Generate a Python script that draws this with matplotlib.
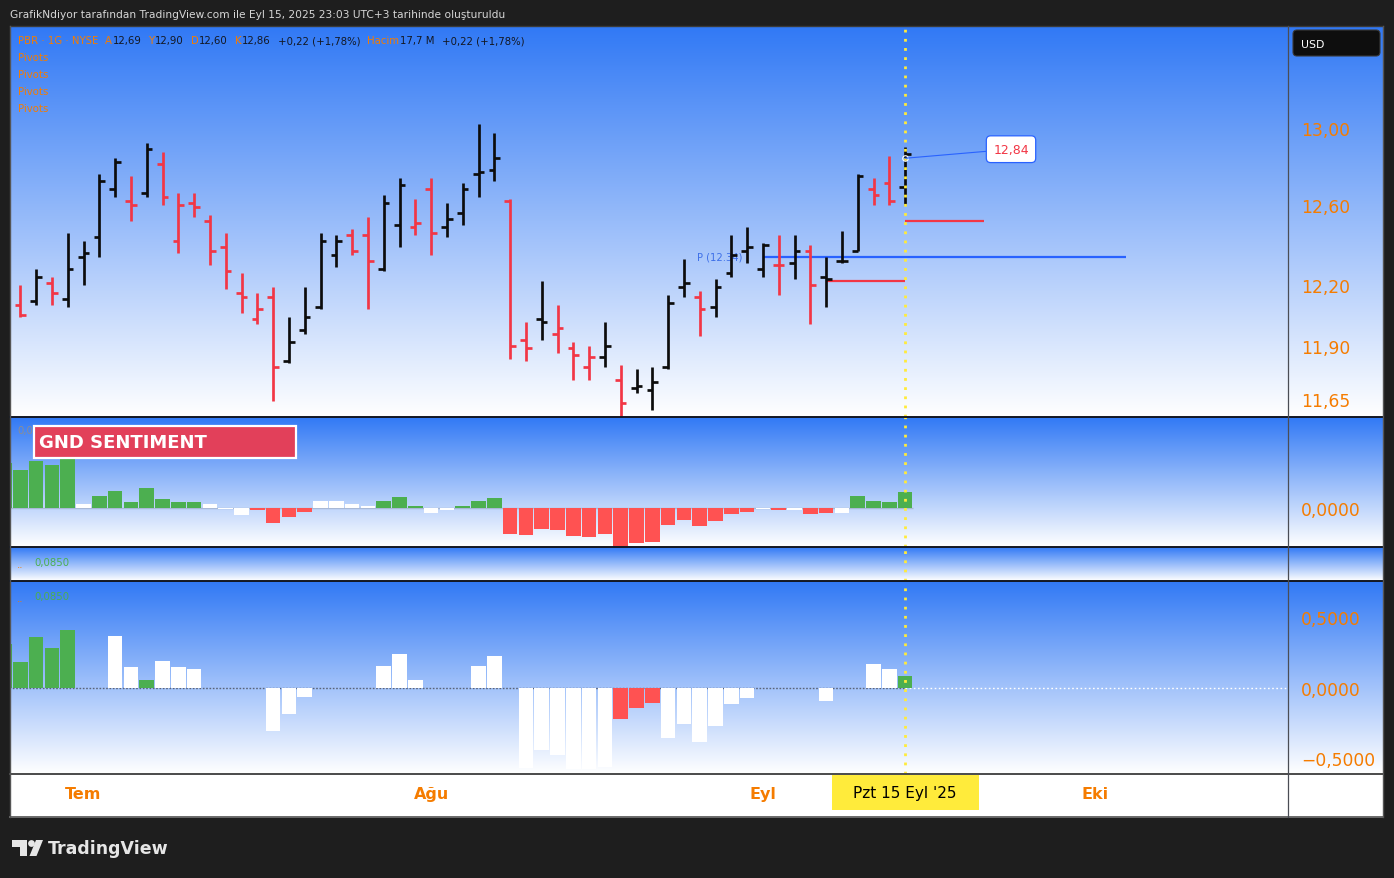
import numpy as np
import matplotlib
matplotlib.use("Agg")
import matplotlib.pyplot as plt
import matplotlib.colors as mcolors
import matplotlib.transforms as mtransforms
from matplotlib.collections import LineCollection
from matplotlib.patches import Rectangle, FancyBboxPatch, Polygon, Circle
from matplotlib.lines import Line2D
from matplotlib.ticker import FixedLocator, NullLocator, FuncFormatter, NullFormatter

plt.rcParams['font.family'] = ['DejaVu Sans']

# ------------------------------------------------------------------ data
title_text = "GrafikNdiyor tarafından TradingView.com ile Eyl 15, 2025 23:03 UTC+3 tarihinde oluşturuldu"
symbol_text = "PBR · 1G · NYSE"
ohlc_labels = ["A", "Y", "D", "K"]
last_ohlc = ["12,69", "12,90", "12,60", "12,86"]
change_text = "+0,22 (+1,78%)"
volume_label = "Hacim"
volume_text = "17,7 M"
pivot_titles = ["Pivots", "Pivots", "Pivots", "Pivots"]

opens = [12.10, 12.12, 12.21, 12.13, 12.34, 12.44, 12.68, 12.62, 12.66, 12.81,
         12.42, 12.61, 12.52, 12.39, 12.16, 12.03, 12.14, 11.83, 11.98, 12.09,
         12.35, 12.45, 12.45, 12.28, 12.50, 12.49, 12.68, 12.49, 12.56, 12.76,
         12.78, 12.62, 11.93, 12.03, 11.96, 11.89, 11.80, 11.85, 11.74, 11.70,
         11.69, 11.80, 12.19, 12.14, 12.09, 12.26, 12.37, 12.28, 12.30, 12.31,
         12.37, 12.24, 12.32, 12.37, 12.68, 12.71, 12.69]
highs = [12.20, 12.28, 12.24, 12.46, 12.42, 12.76, 12.84, 12.75, 12.92, 12.87,
         12.66, 12.66, 12.55, 12.46, 12.26, 12.16, 12.19, 12.04, 12.19, 12.46,
         12.45, 12.48, 12.54, 12.65, 12.74, 12.63, 12.74, 12.61, 12.71, 13.02,
         12.97, 12.63, 12.02, 12.22, 12.10, 11.92, 11.90, 12.02, 11.81, 11.79,
         11.80, 12.15, 12.33, 12.17, 12.23, 12.45, 12.49, 12.41, 12.45, 12.45,
         12.40, 12.34, 12.47, 12.76, 12.74, 12.85, 12.90]
lows = [12.04, 12.10, 12.10, 12.09, 12.20, 12.34, 12.64, 12.52, 12.64, 12.60,
        12.36, 12.54, 12.30, 12.18, 12.06, 12.01, 11.64, 11.82, 11.96, 12.08,
        12.29, 12.35, 12.08, 12.27, 12.39, 12.45, 12.35, 12.44, 12.50, 12.64,
        12.72, 11.84, 11.83, 11.93, 11.87, 11.74, 11.74, 11.80, 11.56, 11.68,
        11.60, 11.79, 12.14, 11.95, 12.04, 12.24, 12.31, 12.24, 12.15, 12.23,
        12.01, 12.09, 12.31, 12.37, 12.60, 12.60, 12.60]
closes = [12.05, 12.24, 12.16, 12.28, 12.36, 12.72, 12.82, 12.60, 12.89, 12.64,
          12.60, 12.59, 12.37, 12.27, 12.14, 12.08, 11.80, 11.92, 12.04, 12.42,
          12.42, 12.37, 12.32, 12.61, 12.70, 12.51, 12.46, 12.53, 12.68, 12.77,
          12.84, 11.90, 11.89, 12.02, 11.99, 11.86, 11.85, 11.90, 11.63, 11.71,
          11.73, 12.11, 12.21, 12.08, 12.19, 12.35, 12.39, 12.40, 12.30, 12.37,
          12.20, 12.23, 12.32, 12.75, 12.65, 12.62, 12.86]
prev_close_first = 12.10

month_labels = ["Tem", "Ağu", "Eyl", "Eki"]
month_index = [4, 26, 47, 68]
cursor_index = 56
cursor_label = "Pzt 15 Eyl '25"

price_ticks = [13.00, 12.60, 12.20, 11.90, 11.65]
pivot_p = 12.34
pivot_p_span = (47, 70)
pivot_upper = 12.52
pivot_upper_span = (56, 61)
pivot_lower = 12.22
pivot_lower_span = (51, 56)
note_value = 12.84

sent_title = "GND SENTIMENT"
sent_header = ["0,0000", "0,3650", "∅", "∅"]
sent_index = list(range(-1, 57))
sent_values = [1.01, 0.86, 1.06, 0.97, 1.15, 0.10, 0.28, 0.39, 0.14, 0.45,
               0.21, 0.14, 0.14, 0.10, -0.02, -0.15, -0.04, -0.33, -0.19, -0.08,
               0.16, 0.16, 0.10, 0.05, 0.16, 0.25, 0.05, -0.11, -0.04, 0.05,
               0.16, 0.23, -0.58, -0.60, -0.46, -0.49, -0.62, -0.64, -0.58, -0.90,
               -0.78, -0.75, -0.37, -0.26, -0.40, -0.28, -0.13, -0.08, -0.01, -0.04,
               -0.04, -0.13, -0.11, -0.11, 0.28, 0.16, 0.14, 0.365]
sent_states = ['g', 'g', 'g', 'g', 'g', 'w', 'g', 'g', 'g', 'g',
               'g', 'g', 'g', 'w', 'w', 'w', 'r', 'r', 'r', 'r',
               'w', 'w', 'w', 'w', 'g', 'g', 'g', 'w', 'w', 'g',
               'g', 'g', 'r', 'r', 'r', 'r', 'r', 'r', 'r', 'r',
               'r', 'r', 'r', 'r', 'r', 'r', 'r', 'r', 'w', 'r',
               'w', 'r', 'r', 'w', 'g', 'g', 'g', 'g']
sent_ticks = [0.0]

osc_header = "0,0850"
osc_values = [0.31, 0.18, 0.36, 0.28, 0.41, 0.0, 0.0, 0.37, 0.15, 0.057,
              0.19, 0.15, 0.135, 0.0, 0.0, 0.0, 0.0, -0.31, -0.185, -0.064,
              0.0, 0.0, 0.0, 0.0, 0.156, 0.24, 0.057, 0.0, 0.0, 0.0,
              0.156, 0.227, 0.0, -0.567, -0.44, -0.475, -0.58, -0.58, -0.56, -0.22,
              -0.142, -0.106, -0.355, -0.255, -0.383, -0.27, -0.113, -0.071, 0.0, 0.0,
              0.0, 0.0, -0.092, 0.0, 0.0, 0.17, 0.135, 0.085]
osc_states = ['g', 'g', 'g', 'g', 'g', 'w', 'w', 'w', 'w', 'g',
              'w', 'w', 'w', 'w', 'w', 'w', 'w', 'w', 'w', 'w',
              'w', 'w', 'w', 'w', 'w', 'w', 'w', 'w', 'w', 'w',
              'w', 'w', 'w', 'w', 'w', 'w', 'w', 'w', 'w', 'r',
              'r', 'r', 'w', 'w', 'w', 'w', 'w', 'w', 'w', 'w',
              'w', 'w', 'w', 'w', 'w', 'w', 'w', 'g']
osc_ticks = [0.5, 0.0, -0.5]

# ------------------------------------------------------------------ style
W, H = 1394, 879
BG = '#1e1e1e'
TOP = '#3179f5'
ORANGE = '#f57c00'
DARK = '#131722'
UP = '#0c0c0c'
DOWN = '#f23645'
STATE_COL = {'g': '#4caf50', 'r': '#ff5252', 'w': '#ffffff'}
YELLOW = '#ffeb3b'
PBLUE = '#2962ff'

fig = plt.figure(figsize=(W / 100, H / 100), dpi=100)
fig.patch.set_facecolor(BG)
PIX = mtransforms.IdentityTransform()


def R(x0, y0, x1, y1):
    return [x0 / W, 1 - y1 / H, (x1 - x0) / W, (y1 - y0) / H]


def bg(x0, y0, x1, y1, top=TOP, bottom='#ffffff'):
    ax = fig.add_axes(R(x0, y0, x1, y1))
    c0 = np.array(mcolors.to_rgb(top))
    c1 = np.array(mcolors.to_rgb(bottom))
    t = np.linspace(0, 1, 256)[:, None]
    img = (c0 * (1 - t) + c1 * t)[:, None, :]
    ax.imshow(img, aspect='auto', extent=[0, 1, 0, 1], origin='upper',
              interpolation='bilinear')
    ax.set_axis_off()
    ax.set_zorder(0)
    return ax


XL, XR, XA = 10, 1288, 1383
P0, P1 = 27, 418
S0, S1 = 418, 548
M0, M1 = 548, 582
L0, L1 = 582, 775
X0, X1 = 775, 818
XLIM = (-0.652, 80.23)

for (a, b) in [(P0, P1), (S0, S1), (M0, M1), (L0, L1)]:
    bg(XL, a, XA, b)
axxbg = fig.add_axes(R(XL, X0, XA, X1))
axxbg.set_facecolor('white')
axxbg.set_xticks([]); axxbg.set_yticks([])
for s in axxbg.spines.values():
    s.set_visible(False)
axxbg.set_zorder(0)


def data_axes(y0, y1):
    ax = fig.add_axes(R(XL, y0, XR, y1))
    ax.set_zorder(2)
    ax.patch.set_alpha(0)
    ax.set_xlim(*XLIM)
    for s in ax.spines.values():
        s.set_visible(False)
    ax.set_xticks([])
    ax.yaxis.tick_right()
    ax.tick_params(axis='y', length=0, pad=9.4, labelsize=12.3, labelcolor=ORANGE)
    return ax


def fmt(v, nd):
    s = f"{abs(v):.{nd}f}".replace('.', ',')
    return ('\u2212' + s) if v < 0 else s


# ------------------------------------------------------------------ price pane
axp = data_axes(P0, P1)
axp.set_yscale('log')
axp.set_ylim(11.565, 13.545)
axp.yaxis.set_major_locator(FixedLocator(price_ticks))
axp.yaxis.set_minor_locator(NullLocator())
axp.yaxis.set_minor_formatter(NullFormatter())
axp.yaxis.set_major_formatter(FuncFormatter(lambda v, p: fmt(v, 2)))

segs, cols = [], []
tick = 0.36
for i, (o, h, l, c) in enumerate(zip(opens, highs, lows, closes)):
    pc = prev_close_first if i == 0 else closes[i - 1]
    col = UP if c >= pc else DOWN
    segs += [[(i, l), (i, h)], [(i - tick, o), (i, o)], [(i, c), (i + tick, c)]]
    cols += [col] * 3
axp.add_collection(LineCollection(segs, colors=cols, linewidths=1.95,
                                  capstyle='butt', zorder=3))

axp.hlines(pivot_p, *pivot_p_span, color=PBLUE, lw=1.6, zorder=2)
axp.hlines(pivot_upper, *pivot_upper_span, color=DOWN, lw=1.6, zorder=2)
axp.hlines(pivot_lower, *pivot_lower_span, color=DOWN, lw=1.6, zorder=2)
axp.text(42.83, pivot_p, f"P ({pivot_p:.2f})", color='#3d6fe8', fontsize=7.2,
         va='center', ha='left', zorder=1)

axp.axvline(cursor_index, color=YELLOW, lw=2.0, ls=(0, (1, 2.3)), zorder=5)
axp.plot([cursor_index], [note_value], 'o', mfc='none', mec='white', ms=4, mew=0.8, zorder=6)
axp.annotate(fmt(note_value, 2), xy=(cursor_index, note_value), xytext=(62.7, 12.887),
             ha='center', va='center', fontsize=9, color=DOWN, zorder=7,
             bbox=dict(boxstyle='round,pad=0.55,rounding_size=0.35', fc='white', ec=PBLUE, lw=0.9),
             arrowprops=dict(arrowstyle='-', color=PBLUE, lw=0.8, shrinkA=0, shrinkB=0))

renderer = fig.canvas.get_renderer()


def seq_text(x_px, y_px, pieces, fs):
    x = x_px
    for s, col, gap in pieces:
        t = fig.text(x / W, 1 - y_px / H, s, color=col, fontsize=fs, va='center',
                     ha='left', zorder=8)
        bb = t.get_window_extent(renderer=renderer)
        x = bb.x1 + gap


HFS = 7.3
pieces = [(symbol_text, ORANGE, 7)]
for lab, val in zip(ohlc_labels, last_ohlc):
    pieces += [(lab, ORANGE, 0.5), (val, DARK, 7)]
pieces += [(change_text, DARK, 7), (volume_label, ORANGE, 0.5), (volume_text, DARK, 7),
           (change_text, DARK, 0)]
seq_text(18, 41, pieces, HFS)
for k, ptxt in enumerate(pivot_titles):
    fig.text(18 / W, 1 - (58 + 17 * k) / H, ptxt, color=ORANGE, fontsize=HFS,
             va='center', ha='left', zorder=8)

# ------------------------------------------------------------------ sentiment pane
axs = data_axes(S0, S1)
axs.set_ylim(-0.867, 2.045)
axs.yaxis.set_major_locator(FixedLocator(sent_ticks))
axs.yaxis.set_major_formatter(FuncFormatter(lambda v, p: fmt(v, 4)))
axs.hlines(0, -1.5, cursor_index + 0.5, color='#a9b9d6', lw=1.0, zorder=1)
axs.bar(sent_index, sent_values, width=0.93, color=[STATE_COL[s] for s in sent_states],
        zorder=2)
axs.axvline(cursor_index, color=YELLOW, lw=2.0, ls=(0, (1, 2.3)), zorder=5)
seq_text(17, 431, [(sent_header[0], '#8a8d96', 8), (sent_header[1], '#4caf50', 8),
                   (sent_header[2], ORANGE, 8), (sent_header[3], ORANGE, 0)], HFS)
box = Rectangle((34, H - 459), 262, 32, transform=PIX, facecolor='#e2405a',
                edgecolor='white', lw=1.6, zorder=9)
fig.add_artist(box)
fig.text(39 / W, 1 - 443.5 / H, sent_title, color='white', fontsize=13,
         fontweight='bold', va='center', ha='left', zorder=10)

# ------------------------------------------------------------------ small pane
axm = data_axes(M0, M1)
axm.set_yticks([])
axm.axvline(cursor_index, color=YELLOW, lw=2.0, ls=(0, (1, 2.3)), zorder=5)
fig.text(17 / W, 1 - 565 / H, "..", color=ORANGE, fontsize=HFS, va='center', ha='left', zorder=8)
fig.text(34 / W, 1 - 563 / H, osc_header, color='#4caf50', fontsize=HFS, va='center',
         ha='left', zorder=8)

# ------------------------------------------------------------------ lower pane
axl = data_axes(L0, L1)
axl.set_ylim(-0.612, 0.757)
axl.yaxis.set_major_locator(FixedLocator(osc_ticks))
axl.yaxis.set_major_formatter(FuncFormatter(lambda v, p: fmt(v, 4)))
axl.hlines(0, -1.5, cursor_index, color='#5a6478', lw=1.0, ls=(0, (1.2, 1.2)), zorder=1)
axl.hlines(0, cursor_index, XLIM[1], color='white', lw=1.0, ls=(0, (1.2, 1.8)), zorder=1)
axl.bar(sent_index, osc_values, width=0.93, color=[STATE_COL[s] for s in osc_states],
        zorder=2)
axl.axvline(cursor_index, color=YELLOW, lw=2.0, ls=(0, (1, 2.3)), zorder=5)
fig.text(17 / W, 1 - 599 / H, "..", color=ORANGE, fontsize=HFS, va='center', ha='left', zorder=8)
fig.text(34 / W, 1 - 597 / H, osc_header, color='#4caf50', fontsize=HFS, va='center',
         ha='left', zorder=8)

# ------------------------------------------------------------------ x-axis row
axx = fig.add_axes(R(XL, X0, XR, X1))
axx.set_zorder(2)
axx.patch.set_alpha(0)
axx.set_xlim(*XLIM)
axx.set_ylim(0, 1)
axx.set_xticks([]); axx.set_yticks([])
for s in axx.spines.values():
    s.set_visible(False)
for idx, lab in zip(month_index, month_labels):
    axx.text(idx, (X1 - 795) / (X1 - X0), lab, ha='center', va='center', color=ORANGE,
             fontsize=11.5, fontweight='bold')
xc = axx.transData.transform((cursor_index, 0))[0]
fig.add_artist(Rectangle((xc - 73.5, H - 811), 147, 35, transform=PIX, facecolor=YELLOW,
                         edgecolor='none', zorder=6))
fig.text(xc / W, 1 - 794 / H, cursor_label, ha='center', va='center', color='black',
         fontsize=11, zorder=7)

# ------------------------------------------------------------------ frame lines
def hline_px(y, x0, x1, col, lw):
    fig.add_artist(Line2D([x0, x1], [H - y, H - y], transform=PIX, color=col, lw=lw, zorder=5))


def vline_px(x, y0, y1, col, lw):
    fig.add_artist(Line2D([x, x], [H - y0, H - y1], transform=PIX, color=col, lw=lw, zorder=5))


for y in (S0, M0, L0):
    hline_px(y, XL, XA, DARK, 1.4)
hline_px(X0, XL, XA, '#4a4a4a', 1.4)
hline_px(X1, XL, XA, '#6a6a6a', 1.4)
hline_px(P0, XL, XA, '#3a3a3a', 1.0)
vline_px(XR, P0, X1, '#4a4d55', 0.9)
vline_px(XL, P0, X1, '#555555', 1.0)
vline_px(XA, P0, X1, '#555555', 1.0)

# USD badge
fig.add_artist(FancyBboxPatch((1293, H - 57), 87, 26, boxstyle='round,pad=0,rounding_size=4',
                              transform=PIX, facecolor='#0e0e0e', edgecolor='#3a3a3a',
                              lw=0.8, zorder=6))
fig.text(1301 / W, 1 - 44.5 / H, "USD", color='white', fontsize=7.8, va='center', ha='left',
         zorder=7)

# title
fig.text(10 / W, 1 - 15 / H, title_text, color='#d6d6d6', fontsize=7.7, va='center',
         ha='left')

# TradingView logo
logo_col = '#e6e6e6'
fig.add_artist(Polygon([(12, H - 841), (27, H - 841), (27, H - 857), (20, H - 857),
                        (20, H - 848), (12, H - 848)], closed=True, transform=PIX,
                       facecolor=logo_col, edgecolor='none'))
fig.add_artist(Circle((31.5, H - 844.5), 3.4, transform=PIX, facecolor=logo_col,
                      edgecolor='none'))
fig.add_artist(Polygon([(36, H - 841), (43, H - 841), (36.5, H - 857), (29.5, H - 857)],
                       closed=True, transform=PIX, facecolor=logo_col, edgecolor='none'))
fig.text(48 / W, 1 - 849 / H, "TradingView", color=logo_col, fontsize=12.5,
         fontweight='bold', va='center', ha='left')

fig.savefig("out.png", dpi=100, facecolor=fig.get_facecolor())
